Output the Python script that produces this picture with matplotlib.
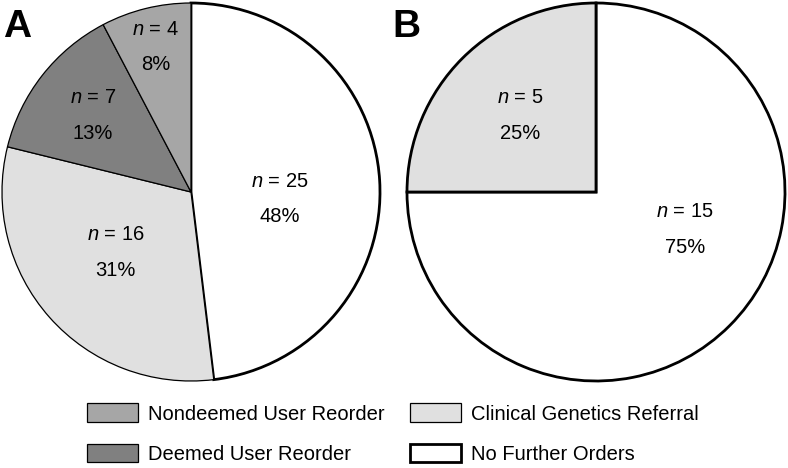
import numpy as np
import matplotlib
matplotlib.use("Agg")
import matplotlib.pyplot as plt

plt.rcParams['font.family'] = ['Liberation Sans', 'DejaVu Sans']
plt.rcParams['mathtext.fontset'] = 'custom'
plt.rcParams['mathtext.rm'] = 'Liberation Sans'
plt.rcParams['mathtext.it'] = 'Liberation Sans:italic'

# data
categories = ['No Further Orders', 'Clinical Genetics Referral',
              'Deemed User Reorder', 'Nondeemed User Reorder']
counts_a = [25, 16, 7, 4]
pcts_a = [48, 31, 13, 8]
counts_b = [15, 5]
pcts_b = [75, 25]
categories_b = ['No Further Orders', 'Clinical Genetics Referral']

colors = {'No Further Orders': '#ffffff',
          'Clinical Genetics Referral': '#e0e0e0',
          'Deemed User Reorder': '#808080',
          'Nondeemed User Reorder': '#a6a6a6'}

W, H = 788, 468
fig = plt.figure(figsize=(W / 100, H / 100), dpi=100)


def px_axes(left, top, size):
    return fig.add_axes([left / W, (H - top - size) / H, size / W, size / H])


def draw_pie(ax, counts, pcts, cats, lw_thin, lab_pos):
    wedges, _ = ax.pie(counts, startangle=90, counterclock=False,
                       colors=[colors[c] for c in cats], radius=1)
    for w, c in zip(wedges, cats):
        w.set_edgecolor('black')
        w.set_linewidth(2.0 if c == 'No Further Orders' else lw_thin)
        w.set_clip_on(False)
    ax.set_xlim(-1, 1)
    ax.set_ylim(-1, 1)
    ax.set_axis_off()
    for w, n, p, (dang, r) in zip(wedges, counts, pcts, lab_pos):
        ang = np.deg2rad((w.theta1 + w.theta2) / 2 + dang)
        x, y = r * np.cos(ang), r * np.sin(ang)
        ax.text(x, y + 0.095, r'$n$ = %d' % n, ha='center', va='center', fontsize=14.5)
        ax.text(x, y - 0.095, '%d%%' % p, ha='center', va='center', fontsize=14.5)
    return wedges


ax_a = px_axes(2, 3, 378)
wa = draw_pie(ax_a, counts_a, pcts_a, categories, 0.9,
              [(-8, 0.47), (-3, 0.51), (0, 0.66), (0, 0.79)])

ax_b = px_axes(407, 3, 378)
wb = draw_pie(ax_b, counts_b, pcts_b, categories_b, 2.0,
              [(22, 0.51), (0, 0.57)])

fig.text(3 / W, (H - 37) / H, 'A', fontsize=28, fontweight='bold', va='baseline')
fig.text(392 / W, (H - 37) / H, 'B', fontsize=28, fontweight='bold', va='baseline')

# legend, column-major: Nondeemed, Deemed | Clinical, No Further
order = [3, 2, 1, 0]
fig.legend([wa[i] for i in order], [categories[i] for i in order],
           ncol=2, loc='lower left', bbox_to_anchor=(73 / W, -10 / H),
           frameon=False, fontsize=14.5, handlelength=2.53, handleheight=1.04,
           handletextpad=0.5, labelspacing=1.0, columnspacing=1.25,
           borderpad=0.2)

fig.savefig('out.png', dpi=100)
